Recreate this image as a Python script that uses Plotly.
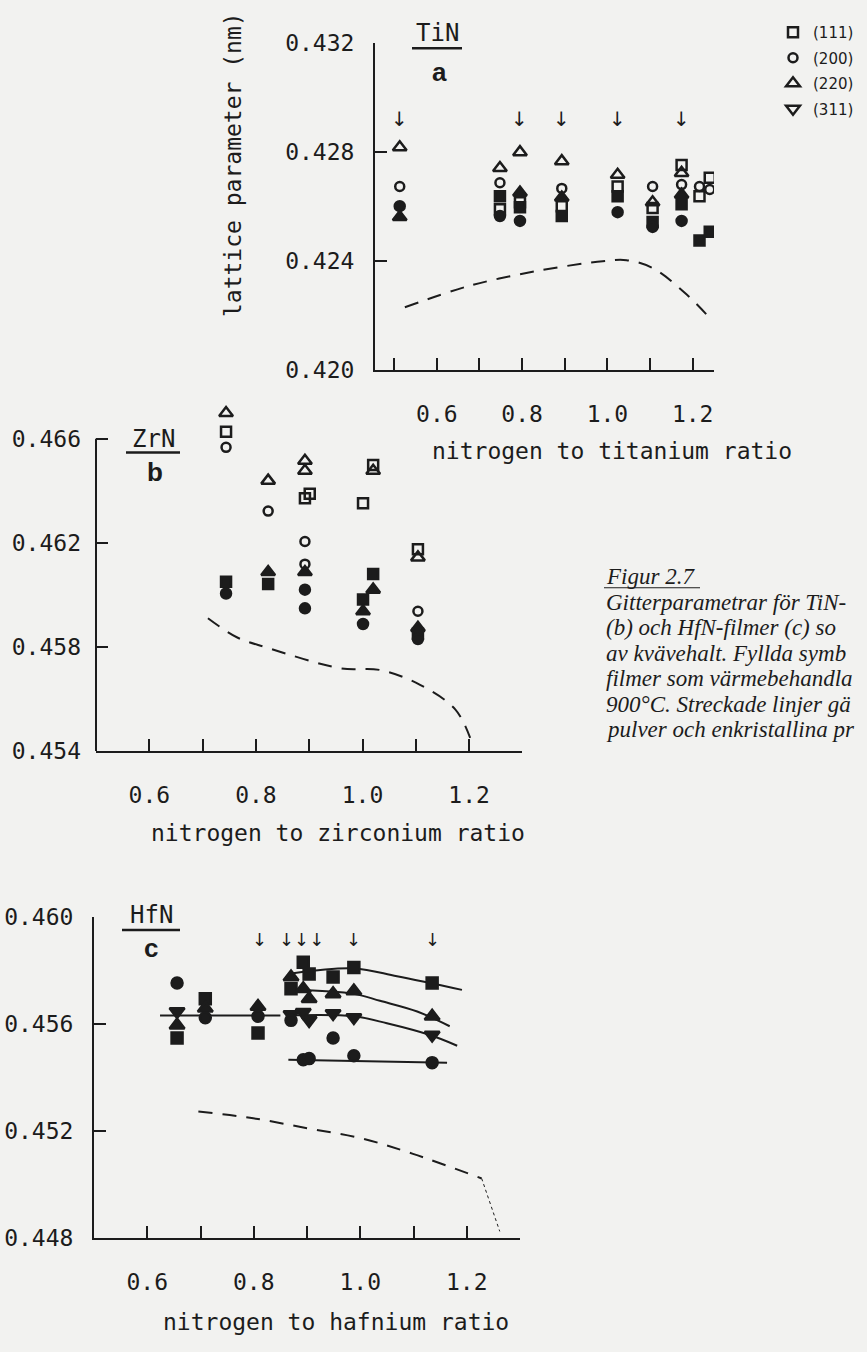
import plotly.graph_objects as go

W, H = 867, 1352
INK = "#1c1c1c"
BG = "#f2f2f0"
MONO = "DejaVu Sans Mono"
SERIF = "Liberation Serif"

# ---------------- Panel a : TiN ----------------
tin_sq_open_x = [0.748, 0.795, 0.893, 1.024, 1.106, 1.174, 1.216, 1.240]
tin_sq_open_y = [0.42591, 0.42616, 0.42602, 0.42674, 0.42595, 0.42753, 0.42638, 0.42706]
tin_sq_fill_x = [0.748, 0.795, 0.893, 1.024, 1.106, 1.174, 1.216, 1.240]
tin_sq_fill_y = [0.42638, 0.42598, 0.42566, 0.42638, 0.42544, 0.42609, 0.42476, 0.42508]
tin_ci_open_x = [0.513, 0.748, 0.893, 1.106, 1.174, 1.216, 1.240]
tin_ci_open_y = [0.42674, 0.42688, 0.42667, 0.42674, 0.42681, 0.42674, 0.42663]
tin_ci_fill_x = [0.513, 0.748, 0.795, 1.024, 1.106, 1.174]
tin_ci_fill_y = [0.42602, 0.42566, 0.42548, 0.42580, 0.42526, 0.42548]
tin_tr_open_x = [0.513, 0.748, 0.795, 0.893, 1.024, 1.106, 1.174]
tin_tr_open_y = [0.42818, 0.42742, 0.42800, 0.42767, 0.42717, 0.42616, 0.42724]
tin_tr_fill_x = [0.513, 0.795, 0.893, 1.174]
tin_tr_fill_y = [0.42562, 0.42652, 0.42634, 0.42645]
tin_bulk_x = [0.525, 0.677, 0.834, 0.989, 1.045, 1.106, 1.186, 1.244]
tin_bulk_y = [0.42231, 0.42310, 0.42364, 0.42400, 0.42404, 0.42375, 0.42278, 0.42185]
tin_arrow_x = [0.513, 0.795, 0.893, 1.024, 1.174]

# ---------------- Panel b : ZrN ----------------
zrn_sq_open_x = [0.744, 0.892, 0.901, 1.001, 1.020, 1.104]
zrn_sq_open_y = [0.46627, 0.46371, 0.46389, 0.46352, 0.46499, 0.46175]
zrn_sq_fill_x = [0.744, 0.823, 1.001, 1.020, 1.104]
zrn_sq_fill_y = [0.46050, 0.46042, 0.45982, 0.46080, 0.45850]
zrn_ci_open_x = [0.744, 0.823, 0.892, 0.892, 1.104]
zrn_ci_open_y = [0.46567, 0.46322, 0.46205, 0.46118, 0.45937]
zrn_ci_fill_x = [0.744, 0.892, 0.892, 1.001, 1.104]
zrn_ci_fill_y = [0.46005, 0.46020, 0.45948, 0.45888, 0.45830]
zrn_tr_open_x = [0.744, 0.823, 0.892, 0.892, 1.020, 1.104]
zrn_tr_open_y = [0.46699, 0.46439, 0.46515, 0.46477, 0.46477, 0.46144]
zrn_tr_fill_x = [0.823, 0.892, 1.001, 1.020, 1.104]
zrn_tr_fill_y = [0.46088, 0.46088, 0.45937, 0.46020, 0.45873]
zrn_bulk_x = [0.710, 0.766, 0.821, 0.958, 1.033, 1.108, 1.174, 1.202]
zrn_bulk_y = [0.45910, 0.45835, 0.45797, 0.45718, 0.45711, 0.45654, 0.45560, 0.45450]

# ---------------- Panel c : HfN ----------------
hfn_sq_x = [0.656, 0.709, 0.808, 0.870, 0.893, 0.904, 0.949, 0.988, 1.135]
hfn_sq_y = [0.45549, 0.45696, 0.45568, 0.45733, 0.45832, 0.45788, 0.45777, 0.45813, 0.45755]
hfn_tr_x = [0.656, 0.709, 0.808, 0.870, 0.893, 0.904, 0.949, 0.988, 1.135]
hfn_tr_y = [0.45597, 0.45660, 0.45667, 0.45777, 0.45733, 0.45696, 0.45714, 0.45725, 0.45630]
hfn_it_x = [0.656, 0.870, 0.893, 0.904, 0.949, 0.988, 1.135]
hfn_it_y = [0.45648, 0.45637, 0.45645, 0.45615, 0.45641, 0.45626, 0.45560]
hfn_ci_x = [0.656, 0.709, 0.808, 0.870, 0.893, 0.904, 0.949, 0.988, 1.135]
hfn_ci_y = [0.45755, 0.45625, 0.45630, 0.45615, 0.45468, 0.45472, 0.45549, 0.45483, 0.45457]
hfn_fit_sq_x = [0.874, 0.988, 1.069, 1.191]
hfn_fit_sq_y = [0.45791, 0.45809, 0.45780, 0.45729]
hfn_fit_tr_x = [0.872, 0.988, 1.037, 1.107, 1.168]
hfn_fit_tr_y = [0.45729, 0.45714, 0.45688, 0.45648, 0.45593]
hfn_fit_it_x = [0.865, 0.988, 1.050, 1.131, 1.182]
hfn_fit_it_y = [0.45633, 0.45630, 0.45604, 0.45560, 0.45520]
hfn_fit_ci_x = [0.865, 1.163]
hfn_fit_ci_y = [0.45468, 0.45457]
hfn_fit_low_x = [0.624, 0.850]
hfn_fit_low_y = [0.45633, 0.45633]
hfn_bulk_x = [0.696, 0.799, 0.900, 1.000, 1.099, 1.228]
hfn_bulk_y = [0.45274, 0.45249, 0.45212, 0.45175, 0.45116, 0.45024]
hfn_tail_x = [1.228, 1.262]
hfn_tail_y = [0.45024, 0.44826]
hfn_arrow_x = [0.810, 0.868, 0.893, 0.910, 0.988, 1.135]

legend_names = ["(111)", "(200)", "(220)", "(311)"]

x_major = [0.6, 0.8, 1.0, 1.2]
x_minor_a = [0.5, 0.7, 0.9, 1.1, 1.25]
x_minor_bc = [0.7, 0.9, 1.1, 1.3]
caption = ["Figur 2.7",
           "Gitterparametrar för TiN-",
           "(b) och HfN-filmer (c) so",
           "av kvävehalt. Fyllda symb",
           "filmer som värmebehandla",
           "900°C. Streckade linjer gä",
           "pulver och enkristallina pr"]


def px(x):
    return x / W


def py(y):
    return 1 - y / H


fig = go.Figure()


def pts(x, y, sym, xa, ya, size=10, name=None, show=False):
    fig.add_trace(go.Scatter(
        x=x, y=y, mode="markers", xaxis=xa, yaxis=ya, name=name, showlegend=show,
        legendgroup=name if show else None,
        marker=dict(symbol=sym, size=size, color=INK, line=dict(color=INK, width=2.5)),
        hoverinfo="skip"))


def line(x, y, xa, ya, dash="solid", width=2, shape="spline"):
    fig.add_trace(go.Scatter(
        x=x, y=y, mode="lines", xaxis=xa, yaxis=ya, showlegend=False,
        line=dict(color=INK, width=width, dash=dash, shape=shape), hoverinfo="skip"))


DASH = "14px,10px"
# panel a
line(tin_bulk_x, tin_bulk_y, "x", "y", dash=DASH)
pts(tin_sq_fill_x, tin_sq_fill_y, "square", "x", "y", 10)
pts(tin_ci_fill_x, tin_ci_fill_y, "circle", "x", "y", 10)
pts(tin_tr_fill_x, tin_tr_fill_y, "triangle-up", "x", "y", 12)
pts(tin_sq_open_x, tin_sq_open_y, "square-open", "x", "y", 10, legend_names[0], True)
pts(tin_ci_open_x, tin_ci_open_y, "circle-open", "x", "y", 9, legend_names[1], True)
pts(tin_tr_open_x, tin_tr_open_y, "triangle-up-open", "x", "y", 12, legend_names[2], True)
pts([None], [None], "triangle-down-open", "x", "y", 12, legend_names[3], True)

# panel b
line(zrn_bulk_x, zrn_bulk_y, "x2", "y2", dash=DASH)
pts(zrn_sq_fill_x, zrn_sq_fill_y, "square", "x2", "y2", 10)
pts(zrn_ci_fill_x, zrn_ci_fill_y, "circle", "x2", "y2", 10)
pts(zrn_tr_fill_x, zrn_tr_fill_y, "triangle-up", "x2", "y2", 12)
pts(zrn_sq_open_x, zrn_sq_open_y, "square-open", "x2", "y2", 10)
pts(zrn_ci_open_x, zrn_ci_open_y, "circle-open", "x2", "y2", 9)
pts(zrn_tr_open_x, zrn_tr_open_y, "triangle-up-open", "x2", "y2", 12)

# panel c
line(hfn_bulk_x, hfn_bulk_y, "x3", "y3", dash=DASH)
line(hfn_tail_x, hfn_tail_y, "x3", "y3", dash="3px,3px", width=1, shape="linear")
for fx, fy in [(hfn_fit_sq_x, hfn_fit_sq_y), (hfn_fit_tr_x, hfn_fit_tr_y),
               (hfn_fit_it_x, hfn_fit_it_y), (hfn_fit_ci_x, hfn_fit_ci_y),
               (hfn_fit_low_x, hfn_fit_low_y)]:
    line(fx, fy, "x3", "y3", width=2)
pts(hfn_sq_x, hfn_sq_y, "square", "x3", "y3", 11)
pts(hfn_tr_x, hfn_tr_y, "triangle-up", "x3", "y3", 13)
pts(hfn_it_x, hfn_it_y, "triangle-down", "x3", "y3", 13)
pts(hfn_ci_x, hfn_ci_y, "circle", "x3", "y3", 11)

axcommon = dict(showline=True, linewidth=2, linecolor=INK, ticks="inside", ticklen=12,
                tickwidth=2, tickcolor=INK, showgrid=False, zeroline=False,
                tickfont=dict(family=MONO, size=23, color=INK))


def minor(vals):
    return dict(tickvals=vals, ticks="inside", ticklen=12, tickwidth=2, tickcolor=INK,
                showgrid=False)


fig.update_layout(
    width=W, height=H, autosize=False,
    margin=dict(l=0, r=0, t=0, b=0),
    paper_bgcolor=BG, plot_bgcolor="rgba(0,0,0,0)",
    showlegend=True,
    legend=dict(x=px(773), y=py(3), xanchor="left", yanchor="top",
                font=dict(family="DejaVu Sans", size=15, color=INK), bgcolor="rgba(0,0,0,0)",
                tracegroupgap=3, itemwidth=30),
    xaxis=dict(axcommon, domain=[px(375), px(714)], range=[0.455, 1.250], anchor="y",
               tickvals=x_major, ticktext=[f"{v:.1f}" for v in x_major],
               minor=minor(x_minor_a), ticklabelstandoff=22),
    yaxis=dict(axcommon, domain=[py(364.3), py(30.7)], range=[0.420, 0.432], anchor="x",
               tickvals=[0.420, 0.424, 0.428, 0.432], tickformat=".3f", ticklabelstandoff=14),
    xaxis2=dict(axcommon, domain=[px(96), px(522.4)], range=[0.5, 1.3], anchor="y2",
                tickvals=x_major, ticktext=[f"{v:.1f}" for v in x_major],
                minor=minor(x_minor_bc), ticklabelstandoff=22),
    yaxis2=dict(axcommon, showline=False, domain=[py(752.4), py(394.3)], range=[0.454, 0.4675],
                anchor="x2", tickvals=[0.454, 0.458, 0.462, 0.466], tickformat=".3f",
                ticklabelstandoff=14),
    xaxis3=dict(axcommon, domain=[px(94), px(520)], range=[0.5, 1.3], anchor="y3",
                tickvals=x_major, ticktext=[f"{v:.1f}" for v in x_major],
                minor=minor(x_minor_bc), ticklabelstandoff=22),
    yaxis3=dict(axcommon, domain=[py(1249.4), py(922.1)], range=[0.448, 0.460], anchor="x3",
                tickvals=[0.448, 0.452, 0.456, 0.460], tickformat=".3f", ticklabelstandoff=14),
)

shapes = [
    dict(type="line", xref="x2 domain", yref="y2", x0=0, x1=0, y0=0.454, y1=0.466,
         line=dict(color=INK, width=2)),
    dict(type="line", xref="paper", yref="paper", x0=px(412), x1=px(462), y0=py(36), y1=py(36),
         line=dict(color=INK, width=2.5)),
    dict(type="line", xref="paper", yref="paper", x0=px(126), x1=px(180), y0=py(448), y1=py(448),
         line=dict(color=INK, width=2.5)),
    dict(type="line", xref="paper", yref="paper", x0=px(122), x1=px(180), y0=py(935), y1=py(935),
         line=dict(color=INK, width=2.5)),
    dict(type="line", xref="paper", yref="paper", x0=px(604), x1=px(700), y0=py(586), y1=py(586),
         line=dict(color=INK, width=1.2)),
]
fig.update_layout(shapes=shapes)

ann = []


def txt(t, x, y, size=23, xanchor="center", family=MONO, angle=0):
    ann.append(dict(text=t, x=px(x), y=py(y), xref="paper", yref="paper", showarrow=False,
                    xanchor=xanchor, yanchor="middle", textangle=angle,
                    font=dict(family=family, size=size, color=INK)))


txt("TiN", 437, 20, size=24)
txt("<b>a</b>", 440, 60, size=26, family="Liberation Sans")
txt("ZrN", 153, 434, size=24)
txt("<b>b</b>", 155, 468, size=26, family="Liberation Sans")
txt("HfN", 151, 920, size=24)
txt("<b>c</b>", 151, 953, size=26, family="Liberation Sans")
txt("lattice parameter (nm)", 233, 154, angle=-90)
txt("nitrogen to titanium ratio", 612, 447)
txt("nitrogen to zirconium ratio", 338, 836)
txt("nitrogen to hafnium ratio", 336, 1335)


def arrow_groups(xs, gap):
    groups = [[xs[0]]]
    for v in xs[1:]:
        if v - groups[-1][-1] < gap:
            groups[-1].append(v)
        else:
            groups.append([v])
    return groups


for xv in tin_arrow_x:
    ann.append(dict(text="↓", x=xv, y=0.42922, xref="x", yref="y", showarrow=False,
                    font=dict(family="DejaVu Sans", size=20, color=INK)))
for g in arrow_groups(hfn_arrow_x, 0.03):
    ann.append(dict(text="↓" * len(g), x=sum(g) / len(g), y=0.45916, xref="x3", yref="y3",
                    showarrow=False, font=dict(family="DejaVu Sans", size=18, color=INK)))

for i, c in enumerate(caption):
    txt("<i>" + c + "</i>", 604, 575 + 26 * i, size=23, xanchor="left", family=SERIF)

fig.update_layout(annotations=ann)
fig.write_html("out.html", config={"displayModeBar": False},
               post_script="document.body.style.margin='0px';document.body.style.overflow='hidden';")
